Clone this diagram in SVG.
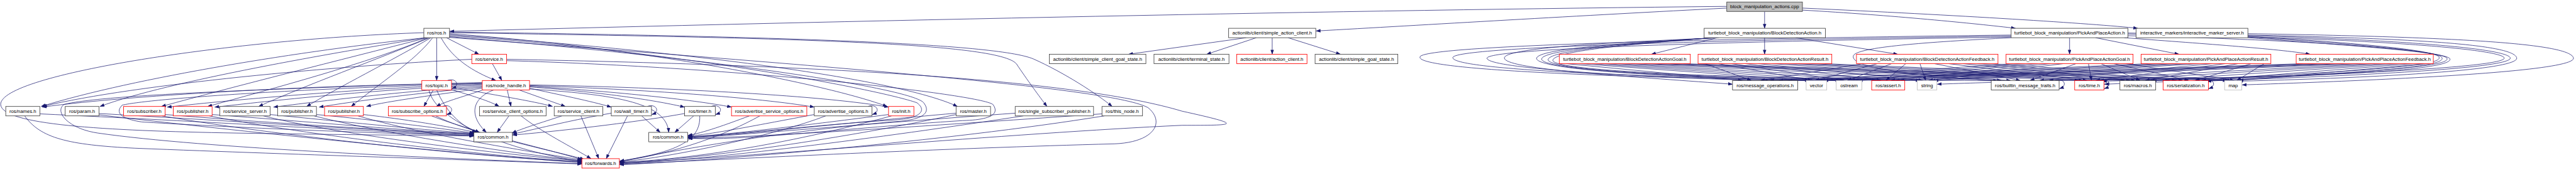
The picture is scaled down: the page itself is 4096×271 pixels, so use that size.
<svg xmlns="http://www.w3.org/2000/svg" width="4096" height="271" viewBox="0 0 4096 271">
<defs>
<style>
.n rect{fill:#fff;stroke:#404040;stroke-width:1.6}
.n.r rect{stroke:#ff0000}
.n.g rect{stroke:#bfbfbf}
.n.root rect{fill:#bfbfbf}
text{font-family:"Liberation Sans",Arial,Helvetica,sans-serif;font-size:14.4px;text-anchor:middle;fill:#000}
#edges path{fill:none;stroke:#191970;stroke-width:1.4;marker-end:url(#ah)}
</style>
<marker id="ah" markerUnits="userSpaceOnUse" markerWidth="14" markerHeight="10" refX="13" refY="5" orient="auto" viewBox="0 0 14 10"><path d="M0,0L14,5L0,10z" fill="#191970"/></marker>
</defs>
<rect width="4096" height="271" fill="#fff"/>
<g transform="scale(0.537)">
<g id="edges">
<path d="M5225,34L5225,84"/>
<path d="M5337,24C5800,45 6200,70 6330,84"/>
<path d="M5337,30C5600,45 5850,70 5968,84"/>
<path d="M5113,24C4700,45 4200,75 3897,92"/>
<path d="M5113,19C4000,30 2500,62 1332,93"/>
<path d="M3690,112L3342,161"/>
<path d="M3720,112L3573,161"/>
<path d="M3767,112L3767,161"/>
<path d="M3814,112L3969,161"/>
<path d="M5085,112L4890,161"/>
<path d="M5225,112L5225,161"/>
<path d="M5317,112L5619,161"/>
<path d="M6128,112L6128,161"/>
<path d="M6205,112L6452,161"/>
<path d="M6290,112C6500,128 6750,145 6840,161"/>
<path d="M4637,189L5159,239"/><path d="M4676,189L5357,239"/><path d="M4714,189L5448,239"/><path d="M4753,189L5557,239"/><path d="M4792,189L5686,239"/><path d="M4830,189L5926,239"/><path d="M4869,189L6156,239"/><path d="M4908,189L6293,239"/><path d="M4946,189L6425,239"/><path d="M4985,189L6595,239"/>
<path d="M5048,189L5186,239"/><path d="M5088,189L5366,239"/><path d="M5127,189L5459,239"/><path d="M5167,189L5570,239"/><path d="M5206,189L5694,239"/><path d="M5246,189L5954,239"/><path d="M5285,189L6168,239"/><path d="M5325,189L6308,239"/><path d="M5364,189L6444,239"/><path d="M5404,189L6602,239"/>
<path d="M5517,189L5213,239"/><path d="M5559,189L5374,239"/><path d="M5601,189L5470,239"/><path d="M5643,189L5584,239"/><path d="M5685,189L5702,239"/><path d="M5728,189L5982,239"/><path d="M5770,189L6180,239"/><path d="M5812,189L6323,239"/><path d="M5854,189L6463,239"/><path d="M5896,189L6609,239"/>
<path d="M5960,189L5240,239"/><path d="M5997,189L5383,239"/><path d="M6035,189L5480,239"/><path d="M6072,189L5598,239"/><path d="M6109,189L5710,239"/><path d="M6147,189L6011,239"/><path d="M6184,189L6193,239"/><path d="M6221,189L6337,239"/><path d="M6259,189L6481,239"/><path d="M6296,189L6616,239"/>
<path d="M6360,189L5267,239"/><path d="M6398,189L5391,239"/><path d="M6436,189L5491,239"/><path d="M6475,189L5612,239"/><path d="M6513,189L5718,239"/><path d="M6551,189L6039,239"/><path d="M6589,189L6205,239"/><path d="M6627,189L6352,239"/><path d="M6666,189L6500,239"/><path d="M6704,189L6623,239"/>
<path d="M6819,189L5294,239"/><path d="M6860,189L5400,239"/><path d="M6900,189L5502,239"/><path d="M6941,189L5625,239"/><path d="M6982,189L5726,239"/><path d="M7022,189L6067,239"/><path d="M7063,189L6217,239"/><path d="M7104,189L6367,239"/><path d="M7144,189L6519,239"/><path d="M7185,189L6630,239"/>
<path d="M5090,112C4800,125 4470,140 4455,170C4440,205 4800,225 5130,250"/>
<path d="M5085,112C4800,128 4560,145 4550,172C4540,205 4900,228 5360,239"/>
<path d="M5080,112C4800,130 4575,148 4565,174C4555,207 4950,230 5452,239"/>
<path d="M5075,112C4800,132 4594,150 4584,176C4574,209 5000,232 5690,239"/>
<path d="M5070,112C4800,134 4608,152 4598,178C4588,211 5100,234 5930,240"/>
<path d="M5955,104C5300,112 4230,130 4205,168C4185,205 4700,228 5375,240"/>
<path d="M5955,107C5300,116 4320,135 4302,170C4290,205 4800,228 5465,240"/>
<path d="M5955,110C5300,120 4420,140 4403,172C4395,205 4900,230 5240,240"/>
<path d="M5955,112C5700,125 5500,140 5488,165C5478,195 5600,220 5915,240"/>
<path d="M6656,100C7300,110 7610,130 7620,172C7630,215 7000,240 6639,252"/>
<path d="M6656,104C7200,115 7445,135 7452,172C7460,210 7000,232 6628,241"/>
<path d="M6301,98C7000,108 7425,140 7433,172C7440,205 6900,228 6530,240"/>
<path d="M6301,101C7000,112 7408,145 7415,172C7422,200 6900,226 6225,241"/>
<path d="M6656,108C7000,128 7205,150 7221,168C7236,188 7150,208 6372,240"/>
<path d="M6656,110C7000,132 7215,152 7230,170C7244,190 7150,210 6535,241"/>
<path d="M6301,106C6900,120 7228,152 7245,172C7258,192 7150,214 6231,250"/>
<path d="M6656,112C7000,138 7240,155 7254,174C7266,196 7100,222 6500,232C6100,238 5900,244 5736,250"/>
<path d="M1260,112C900,150 400,230 122,316"/>
<path d="M1262,112C1000,155 500,240 296,316"/>
<path d="M1265,112C1000,180 700,255 478,316"/>
<path d="M1268,112C1100,185 800,265 615,316"/>
<path d="M1272,112C1120,175 900,255 766,316"/>
<path d="M1276,112C1160,180 1000,260 908,316"/>
<path d="M1281,112C1230,180 1120,250 1040,316"/>
<path d="M1293,112L1293,239"/>
<path d="M1322,112L1418,161"/>
<path d="M1306,112C1340,175 1400,212 1468,239"/>
<path d="M1331,100C1900,140 2450,250 2627,316"/>
<path d="M1331,103C2000,150 2650,230 2835,316"/>
<path d="M1331,97C2300,112 2960,125 3010,190C3040,235 3080,290 3100,316"/>
<path d="M1331,95C2300,108 2950,128 3060,175C3150,215 3250,280 3293,316"/>
<path d="M1255,97C700,115 0,220 2,310C4,370 300,388 700,395C1000,400 1300,402 1403,404"/>
<path d="M1331,106C2000,150 2600,265 2715,305C2748,330 2720,352 2650,356C2400,372 2200,398 2037,406"/>
<path d="M1331,109C2100,170 2700,262 2735,305C2762,340 2720,357 2650,361C2300,392 2000,445 1835,480"/>
<path d="M1331,111C2500,200 3300,262 3400,320C3450,362 3420,422 3300,427C2800,440 2200,470 1835,488"/>
<path d="M1458,189L1486,239"/>
<path d="M1397,176C1000,195 400,250 126,316"/>
<path d="M1500,176C2500,195 3200,240 3500,330C3690,372 3660,372 3500,372C3000,395 2200,468 1835,484"/>
<path d="M1500,180C2200,200 2900,280 2940,310C2962,340 2930,356 2850,358C2500,380 2200,420 2037,410"/>
<path d="M1283,267L1255,316"/>
<path d="M1330,264C1400,285 1450,300 1478,316"/>
<path d="M1337,258C1450,280 1580,300 1636,316"/>
<path d="M1293,267C1320,330 1360,370 1412,393"/>
<path d="M1270,267C1290,360 1500,445 1723,479"/>
<path d="M1325,239C1347,229 1367,253 1338,263"/>
<path d="M1435,265C1380,285 1320,300 1292,316"/>
<path d="M1502,267L1513,316"/>
<path d="M1537,267L1674,316"/>
<path d="M1568,262C1650,280 1750,300 1810,318"/>
<path d="M1568,258C1800,275 1950,300 2027,318"/>
<path d="M1568,256C1800,270 2050,295 2166,318"/>
<path d="M1568,254C1900,265 2250,290 2411,318"/>
<path d="M1568,252C2000,260 2450,285 2631,318"/>
<path d="M1428,262C1300,280 1150,300 1085,316"/>
<path d="M1428,259C1250,275 1050,300 945,318"/>
<path d="M1428,256C1200,270 950,300 810,318"/>
<path d="M1428,253C1100,265 800,300 636,318"/>
<path d="M1428,250C1100,260 700,295 495,318"/>
<path d="M1428,247C1000,250 400,280 125,318"/>
<path d="M1462,267C1400,290 1385,340 1440,393"/>
<path d="M1568,264C1800,280 1975,300 1980,393"/>
<path d="M1428,245C900,260 300,280 190,310C160,330 200,382 290,395C600,440 1300,470 1723,486"/>
<path d="M1428,248C900,262 450,292 362,312C342,332 352,352 420,362C800,385 1200,398 1403,402"/>
<path d="M1310,316C1332,306 1352,330 1323,340"/>
<path d="M1917,316C1939,306 1959,330 1930,340"/>
<path d="M2106,316C2128,306 2148,330 2119,340"/>
<path d="M2570,316C2592,306 2612,330 2583,340"/>
<path d="M6085,239C6107,229 6127,253 6098,263"/>
<path d="M6218,239C6240,229 6260,253 6231,263"/>
<path d="M6527,239C6549,229 6569,253 6540,263"/>
<path d="M118,338C600,360 1100,392 1403,402"/>
<path d="M73,344C120,410 200,430 400,440C900,460 1500,478 1723,487"/>
<path d="M293,337C700,360 1150,390 1403,400"/>
<path d="M293,341C800,400 1400,460 1723,483"/>
<path d="M489,340C800,365 1200,390 1403,398"/>
<path d="M480,344C800,400 1400,465 1723,481"/>
<path d="M628,340C900,360 1250,392 1403,397"/>
<path d="M620,344C900,400 1450,465 1723,480"/>
<path d="M800,340C1000,360 1300,390 1403,396"/>
<path d="M780,344C1000,400 1500,460 1723,478"/>
<path d="M937,340C1150,360 1330,385 1403,395"/>
<path d="M930,344C1150,400 1550,460 1723,477"/>
<path d="M1076,340C1250,360 1370,385 1410,393"/>
<path d="M1060,344C1250,400 1600,455 1725,475"/>
<path d="M1278,344C1330,365 1390,380 1420,393"/>
<path d="M1290,344C1400,400 1650,450 1730,473"/>
<path d="M1507,344L1472,393"/>
<path d="M1543,344C1600,390 1700,440 1750,471"/>
<path d="M1664,344C1600,365 1550,380 1516,395"/>
<path d="M1720,344L1773,471"/>
<path d="M1810,336C1700,355 1600,380 1518,398"/>
<path d="M1900,344L1955,393"/>
<path d="M1858,344L1795,471"/>
<path d="M2054,344L1998,393"/>
<path d="M2027,337C1900,360 1700,385 1518,401"/>
<path d="M2072,344C2075,420 2000,452 1835,478"/>
<path d="M2219,344C2150,370 2080,395 2037,402"/>
<path d="M2250,344C2150,400 2000,455 1835,479"/>
<path d="M2411,340C2250,370 2100,400 2037,404"/>
<path d="M2445,344C2300,400 2000,465 1835,481"/>
<path d="M2631,340C2400,370 2150,400 2037,407"/>
<path d="M2640,344C2400,410 2100,470 1835,482"/>
<path d="M2831,336C2500,365 2200,400 2037,408"/>
<path d="M2831,340C2500,410 2100,470 1835,484"/>
<path d="M3006,336C2600,365 2200,400 2037,410"/>
<path d="M3030,344C2600,410 2100,475 1835,486"/>
<path d="M3263,338C2800,370 2300,405 2037,411"/>
<path d="M3270,344C2800,420 2100,478 1835,489"/>
<path d="M1517,418C1600,440 1680,460 1723,474"/>
</g>
<g id="n_root" class="n root"><rect x="5113" y="6" width="224" height="28"/><text x="5225" y="25">block_manipulation_actions.cpp</text></g>
<g id="n_ros" class="n"><rect x="1255" y="84" width="76" height="28"/><text x="1293" y="103">ros/ros.h</text></g>
<g id="n_service" class="n r"><rect x="1397" y="161" width="103" height="28"/><text x="1448.5" y="180">ros/service.h</text></g>
<g id="n_topic" class="n r"><rect x="1249" y="239" width="88" height="28"/><text x="1293" y="258">ros/topic.h</text></g>
<g id="n_node_handle" class="n r"><rect x="1428" y="239" width="140" height="28"/><text x="1498" y="258">ros/node_handle.h</text></g>
<g id="n_names" class="n"><rect x="17" y="316" width="101" height="28"/><text x="67.5" y="335">ros/names.h</text></g>
<g id="n_param" class="n"><rect x="193" y="316" width="100" height="28"/><text x="243" y="335">ros/param.h</text></g>
<g id="n_subscriber" class="n r"><rect x="366" y="316" width="123" height="28"/><text x="427.5" y="335">ros/subscriber.h</text></g>
<g id="n_publisher1" class="n r"><rect x="513" y="316" width="115" height="28"/><text x="570.5" y="335">ros/publisher.h</text></g>
<g id="n_service_server" class="n"><rect x="651" y="316" width="149" height="28"/><text x="725.5" y="335">ros/service_server.h</text></g>
<g id="n_publisher2" class="n"><rect x="822" y="316" width="115" height="28"/><text x="879.5" y="335">ros/publisher.h</text></g>
<g id="n_publisher3" class="n r"><rect x="961" y="316" width="115" height="28"/><text x="1018.5" y="335">ros/publisher.h</text></g>
<g id="n_subscribe_options" class="n r"><rect x="1150" y="316" width="172" height="28"/><text x="1236" y="335">ros/subscribe_options.h</text></g>
<g id="n_service_client_options" class="n"><rect x="1420" y="316" width="197" height="28"/><text x="1518.5" y="335">ros/service_client_options.h</text></g>
<g id="n_service_client" class="n"><rect x="1641" y="316" width="144" height="28"/><text x="1713" y="335">ros/service_client.h</text></g>
<g id="n_wall_timer" class="n"><rect x="1810" y="316" width="119" height="28"/><text x="1869.5" y="335">ros/wall_timer.h</text></g>
<g id="n_timer" class="n"><rect x="2027" y="316" width="91" height="28"/><text x="2072.5" y="335">ros/timer.h</text></g>
<g id="n_advertise_service_options" class="n r"><rect x="2166" y="316" width="223" height="28"/><text x="2277.5" y="335">ros/advertise_service_options.h</text></g>
<g id="n_advertise_options" class="n"><rect x="2411" y="316" width="171" height="28"/><text x="2496.5" y="335">ros/advertise_options.h</text></g>
<g id="n_init" class="n r"><rect x="2631" y="316" width="75" height="28"/><text x="2668.5" y="335">ros/init.h</text></g>
<g id="n_master" class="n"><rect x="2831" y="316" width="102" height="28"/><text x="2882" y="335">ros/master.h</text></g>
<g id="n_single_subscriber_publisher" class="n"><rect x="3006" y="316" width="232" height="28"/><text x="3122" y="335">ros/single_subscriber_publisher.h</text></g>
<g id="n_this_node" class="n"><rect x="3263" y="316" width="120" height="28"/><text x="3323" y="335">ros/this_node.h</text></g>
<g id="n_common1" class="n"><rect x="1403" y="393" width="114" height="28"/><text x="1460" y="412">ros/common.h</text></g>
<g id="n_common2" class="n"><rect x="1921" y="393" width="115" height="28"/><text x="1978.5" y="412">ros/common.h</text></g>
<g id="n_forwards" class="n r"><rect x="1723" y="471" width="111" height="28"/><text x="1778.5" y="490">ros/forwards.h</text></g>
<g id="n_simple_action_client" class="n"><rect x="3638" y="84" width="258" height="28"/><text x="3767" y="103">actionlib/client/simple_action_client.h</text></g>
<g id="n_simple_client_goal_state" class="n"><rect x="3107" y="161" width="286" height="28"/><text x="3250" y="180">actionlib/client/simple_client_goal_state.h</text></g>
<g id="n_terminal_state" class="n"><rect x="3417" y="161" width="222" height="28"/><text x="3528" y="180">actionlib/client/terminal_state.h</text></g>
<g id="n_action_client" class="n r"><rect x="3662" y="161" width="208" height="28"/><text x="3766" y="180">actionlib/client/action_client.h</text></g>
<g id="n_simple_goal_state" class="n"><rect x="3894" y="161" width="245" height="28"/><text x="4016.5" y="180">actionlib/client/simple_goal_state.h</text></g>
<g id="n_bda" class="n"><rect x="5046" y="84" width="359" height="28"/><text x="5225.5" y="103">turtlebot_block_manipulation/BlockDetectionAction.h</text></g>
<g id="n_papa" class="n"><rect x="5955" y="84" width="346" height="28"/><text x="6128" y="103">turtlebot_block_manipulation/PickAndPlaceAction.h</text></g>
<g id="n_ims" class="n"><rect x="6325" y="84" width="331" height="28"/><text x="6490.5" y="103">interactive_markers/interactive_marker_server.h</text></g>
<g id="n_bdag" class="n r"><rect x="4617" y="161" width="388" height="28"/><text x="4811" y="180">turtlebot_block_manipulation/BlockDetectionActionGoal.h</text></g>
<g id="n_bdar" class="n r"><rect x="5028" y="161" width="396" height="28"/><text x="5226" y="180">turtlebot_block_manipulation/BlockDetectionActionResult.h</text></g>
<g id="n_bdaf" class="n r"><rect x="5497" y="161" width="419" height="28"/><text x="5706.5" y="180">turtlebot_block_manipulation/BlockDetectionActionFeedback.h</text></g>
<g id="n_papg" class="n r"><rect x="5940" y="161" width="376" height="28"/><text x="6128" y="180">turtlebot_block_manipulation/PickAndPlaceActionGoal.h</text></g>
<g id="n_papr" class="n r"><rect x="6340" y="161" width="384" height="28"/><text x="6532" y="180">turtlebot_block_manipulation/PickAndPlaceActionResult.h</text></g>
<g id="n_papf" class="n r"><rect x="6799" y="161" width="406" height="28"/><text x="7002" y="180">turtlebot_block_manipulation/PickAndPlaceActionFeedback.h</text></g>
<g id="n_message_operations" class="n"><rect x="5130" y="239" width="193" height="28"/><text x="5226.5" y="258">ros/message_operations.h</text></g>
<g id="n_vector" class="n g"><rect x="5348" y="239" width="61" height="28"/><text x="5378.5" y="258">vector</text></g>
<g id="n_ostream" class="n g"><rect x="5437" y="239" width="76" height="28"/><text x="5475" y="258">ostream</text></g>
<g id="n_assert" class="n r"><rect x="5542" y="239" width="98" height="28"/><text x="5591" y="258">ros/assert.h</text></g>
<g id="n_string" class="n g"><rect x="5677" y="239" width="58" height="28"/><text x="5706" y="258">string</text></g>
<g id="n_builtin_message_traits" class="n"><rect x="5896" y="239" width="201" height="28"/><text x="5996.5" y="258">ros/builtin_message_traits.h</text></g>
<g id="n_time" class="n r"><rect x="6143" y="239" width="87" height="28"/><text x="6186.5" y="258">ros/time.h</text></g>
<g id="n_macros" class="n"><rect x="6277" y="239" width="106" height="28"/><text x="6330" y="258">ros/macros.h</text></g>
<g id="n_serialization" class="n r"><rect x="6405" y="239" width="134" height="28"/><text x="6472" y="258">ros/serialization.h</text></g>
<g id="n_map" class="n g"><rect x="6587" y="239" width="51" height="28"/><text x="6612.5" y="258">map</text></g>
</g>
</svg>
